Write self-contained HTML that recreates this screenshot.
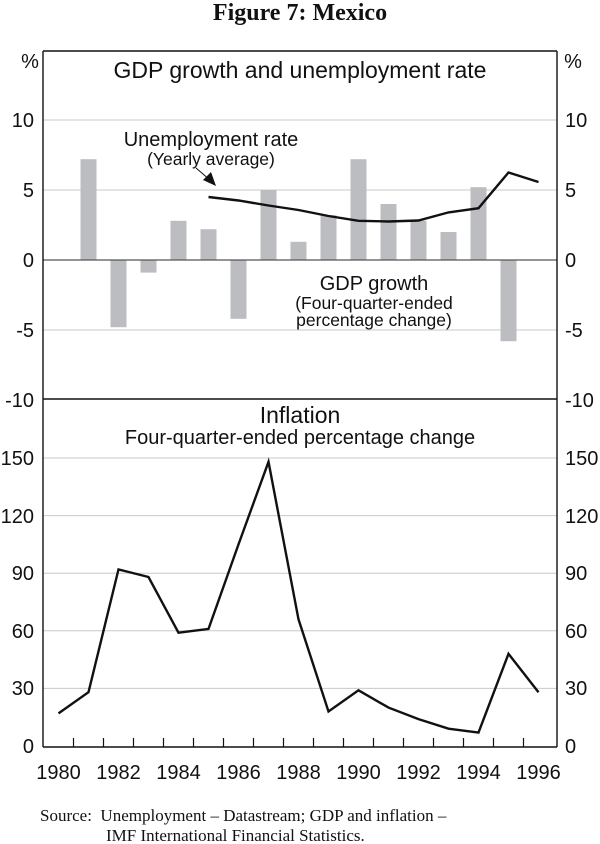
<!DOCTYPE html>
<html><head><meta charset="utf-8"><style>
html,body{margin:0;padding:0;background:#fff;width:600px;height:844px;overflow:hidden}
svg{display:block}
.s{font-family:"Liberation Sans",sans-serif;fill:#111}
.t{font-size:20px}
</style></head><body>
<svg width="600" height="844" viewBox="0 0 600 844">
<text x="300" y="20" text-anchor="middle" font-family="Liberation Serif,serif" font-weight="bold" font-size="24" fill="#111">Figure 7: Mexico</text>
<g stroke="#c8c8c8" stroke-width="1">
<line x1="43" x2="557" y1="120" y2="120"/><line x1="43" x2="557" y1="190" y2="190"/><line x1="43" x2="557" y1="330" y2="330"/>
<line x1="43" x2="557" y1="688.4" y2="688.4"/><line x1="43" x2="557" y1="630.8" y2="630.8"/><line x1="43" x2="557" y1="573.2" y2="573.2"/><line x1="43" x2="557" y1="515.6" y2="515.6"/><line x1="43" x2="557" y1="458" y2="458"/>
</g>
<g fill="#bcbdc0">
<rect x="80.5" y="159.2" width="16" height="100.8"/>
<rect x="110.5" y="260" width="16" height="67.2"/>
<rect x="140.5" y="260" width="16" height="12.6"/>
<rect x="170.5" y="220.8" width="16" height="39.2"/>
<rect x="200.5" y="229.2" width="16" height="30.8"/>
<rect x="230.5" y="260" width="16" height="58.8"/>
<rect x="260.5" y="190" width="16" height="70"/>
<rect x="290.5" y="241.8" width="16" height="18.2"/>
<rect x="320.5" y="215.2" width="16" height="44.8"/>
<rect x="350.5" y="159.2" width="16" height="100.8"/>
<rect x="380.5" y="204" width="16" height="56"/>
<rect x="410.5" y="220.8" width="16" height="39.2"/>
<rect x="440.5" y="232" width="16" height="28"/>
<rect x="470.5" y="187.2" width="16" height="72.8"/>
<rect x="500.5" y="260" width="16" height="81.2"/>
</g>
<line x1="43" x2="557" y1="260" y2="260" stroke="#555" stroke-width="1.3"/>
<polyline fill="none" stroke="#111" stroke-width="2.4" points="208.5,197 238.5,200.5 268.5,205.5 298.5,210 328.5,216 358.5,220.8 388.5,221.5 418.5,220.5 448.5,212.4 478.5,208.2 508.5,172.5 538.5,182"/>
<polyline fill="none" stroke="#111" stroke-width="2.4" points="58.5,713.4 88.5,692.2 118.5,569.4 148.5,577 178.5,632.7 208.5,628.9 238.5,544.4 268.5,461.8 298.5,619.3 328.5,711.5 358.5,690.3 388.5,707.6 418.5,719.1 448.5,728.7 478.5,732.6 508.5,653.8 538.5,692.2"/>
<g stroke="#111" stroke-width="1.4" fill="none">
<line x1="43" y1="51" x2="43" y2="747"/><line x1="557" y1="51" x2="557" y2="747"/>
<line x1="43" y1="51" x2="557" y2="51"/><line x1="43" y1="399" x2="557" y2="399"/><line x1="43" y1="747" x2="557" y2="747"/>
</g>
<g stroke="#111" stroke-width="1.2">
<line x1="73.5" x2="73.5" y1="738" y2="747"/><line x1="103.5" x2="103.5" y1="738" y2="747"/><line x1="133.5" x2="133.5" y1="738" y2="747"/><line x1="163.5" x2="163.5" y1="738" y2="747"/><line x1="193.5" x2="193.5" y1="738" y2="747"/><line x1="223.5" x2="223.5" y1="738" y2="747"/><line x1="253.5" x2="253.5" y1="738" y2="747"/><line x1="283.5" x2="283.5" y1="738" y2="747"/><line x1="313.5" x2="313.5" y1="738" y2="747"/><line x1="343.5" x2="343.5" y1="738" y2="747"/><line x1="373.5" x2="373.5" y1="738" y2="747"/><line x1="403.5" x2="403.5" y1="738" y2="747"/><line x1="433.5" x2="433.5" y1="738" y2="747"/><line x1="463.5" x2="463.5" y1="738" y2="747"/><line x1="493.5" x2="493.5" y1="738" y2="747"/><line x1="523.5" x2="523.5" y1="738" y2="747"/>
</g>
<line x1="196" y1="168" x2="210" y2="180" stroke="#111" stroke-width="1"/>
<polygon points="216,186 203,180 211,172" fill="#111"/>
<g class="s t">
<text x="30" y="68" text-anchor="middle">%</text><text x="573" y="68" text-anchor="middle">%</text>
<g text-anchor="end">
<text x="34" y="127">10</text><text x="34" y="197">5</text><text x="34" y="267">0</text><text x="34" y="337">-5</text><text x="34" y="407">-10</text>
<text x="34" y="465">150</text><text x="34" y="523">120</text><text x="34" y="580">90</text><text x="34" y="638">60</text><text x="34" y="695">30</text><text x="34" y="753">0</text>
</g>
<g>
<text x="565" y="127">10</text><text x="565" y="197">5</text><text x="565" y="267">0</text><text x="565" y="337">-5</text><text x="565" y="407">-10</text>
<text x="565" y="465">150</text><text x="565" y="523">120</text><text x="565" y="580">90</text><text x="565" y="638">60</text><text x="565" y="695">30</text><text x="565" y="753">0</text>
</g>
<g text-anchor="middle">
<text x="58.5" y="779">1980</text><text x="118.5" y="779">1982</text><text x="178.5" y="779">1984</text><text x="238.5" y="779">1986</text><text x="298.5" y="779">1988</text><text x="358.5" y="779">1990</text><text x="418.5" y="779">1992</text><text x="478.5" y="779">1994</text><text x="538.5" y="779">1996</text>
<text x="300" y="78" font-size="23">GDP growth and unemployment rate</text>
<text x="211" y="146">Unemployment rate</text>
<text x="211" y="165" font-size="17.5">(Yearly average)</text>
<text x="374" y="290">GDP growth</text>
<text x="374" y="309" font-size="17.5">(Four-quarter-ended</text>
<text x="374" y="326" font-size="17.5">percentage change)</text>
<text x="300" y="423" font-size="23">Inflation</text>
<text x="300" y="444" font-size="20">Four-quarter-ended percentage change</text>
</g>
</g>
<g font-family="Liberation Serif,serif" font-size="17" fill="#111">
<text x="40" y="821" xml:space="preserve">Source:  Unemployment – Datastream; GDP and inflation –</text>
<text x="106" y="841">IMF International Financial Statistics.</text>
</g>
</svg>
</body></html>
